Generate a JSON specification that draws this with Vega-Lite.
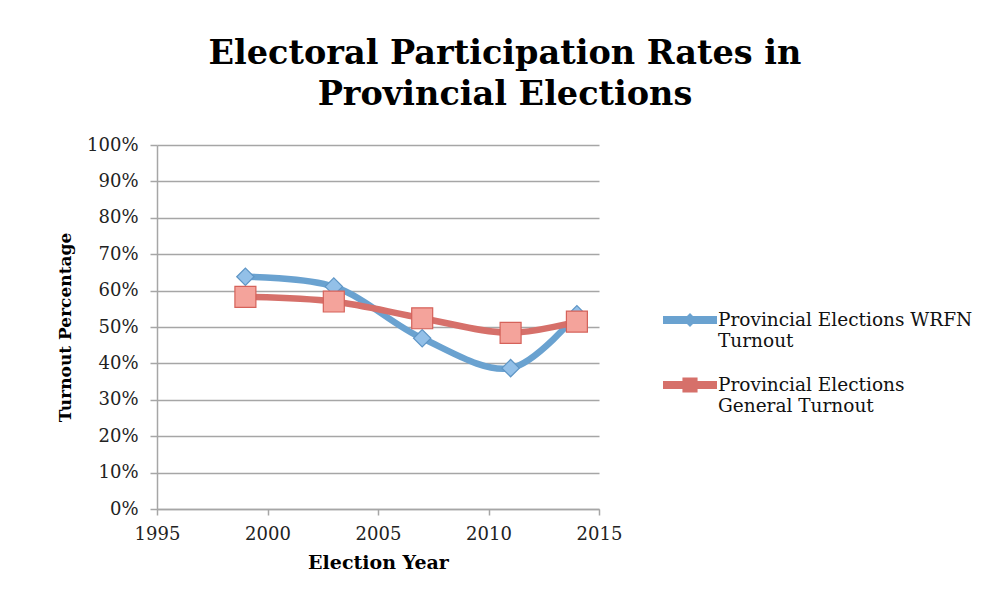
{
  "$schema": "https://vega.github.io/schema/vega-lite/v6.json",
  "autosize": "none",
  "padding": {"left": 157, "top": 145, "right": 404, "bottom": 96},
  "width": 442,
  "height": 364,
  "background": "white",
  "config": {"view": {"stroke": null}, "font": "DejaVu Serif"},
  "title": {
    "text": ["Electoral Participation Rates in", "Provincial Elections"],
    "font": "DejaVu Serif",
    "fontSize": 33.5,
    "fontWeight": "bold",
    "color": "#000000",
    "lineHeight": 41,
    "anchor": "middle",
    "dx": 127,
    "offset": 24
  },
  "data": {
    "values": [
      {"year": 1999, "turnout": 0.638, "series": "Provincial Elections WRFN Turnout"},
      {"year": 2003, "turnout": 0.611, "series": "Provincial Elections WRFN Turnout"},
      {"year": 2007, "turnout": 0.469, "series": "Provincial Elections WRFN Turnout"},
      {"year": 2011, "turnout": 0.387, "series": "Provincial Elections WRFN Turnout"},
      {"year": 2014, "turnout": 0.535, "series": "Provincial Elections WRFN Turnout"},
      {"year": 1999, "turnout": 0.583, "series": "Provincial Elections General Turnout"},
      {"year": 2003, "turnout": 0.570, "series": "Provincial Elections General Turnout"},
      {"year": 2007, "turnout": 0.524, "series": "Provincial Elections General Turnout"},
      {"year": 2011, "turnout": 0.484, "series": "Provincial Elections General Turnout"},
      {"year": 2014, "turnout": 0.515, "series": "Provincial Elections General Turnout"}
    ]
  },
  "encoding": {
    "x": {
      "field": "year", "type": "quantitative",
      "scale": {"domain": [1995, 2015], "nice": false, "zero": false},
      "axis": {
        "title": "Election Year", "titleFont": "DejaVu Serif", "titleFontSize": 19, "titleFontWeight": "bold",
        "titleColor": "#000", "titlePadding": 10,
        "values": [1995, 2000, 2005, 2010, 2015], "format": "d",
        "labelFont": "DejaVu Serif", "labelFontSize": 18, "labelColor": "#222", "labelPadding": 10,
        "grid": false, "domainColor": "#a6a6a6", "domainWidth": 1.5,
        "tickColor": "#a6a6a6", "tickSize": 6, "tickWidth": 1.5, "labelFlush": false
      }
    },
    "y": {
      "field": "turnout", "type": "quantitative",
      "scale": {"domain": [0, 1], "nice": false},
      "axis": {
        "title": "Turnout Percentage", "titleFont": "DejaVu Serif", "titleFontSize": 17, "titleFontWeight": "bold",
        "titleColor": "#000", "titlePadding": 12,
        "values": [0, 0.1, 0.2, 0.3, 0.4, 0.5, 0.6, 0.7, 0.8, 0.9, 1], "format": ".0%",
        "labelFont": "DejaVu Serif", "labelFontSize": 18, "labelColor": "#222", "labelPadding": 12,
        "grid": true, "gridColor": "#a6a6a6", "gridWidth": 1.5,
        "domainColor": "#a6a6a6", "domainWidth": 1.5,
        "tickColor": "#a6a6a6", "tickSize": 7, "tickWidth": 1.5
      }
    }
  },
  "layer": [
    {
      "mark": {"type": "line", "interpolate": "catmull-rom", "strokeWidth": 6.5},
      "encoding": {
        "color": {
          "field": "series", "type": "nominal",
          "scale": {
            "domain": ["Provincial Elections WRFN Turnout", "Provincial Elections General Turnout"],
            "range": ["#6aa2d0", "#d6706a"]
          },
          "legend": {
            "orient": "none", "legendX": 506, "legendY": 148,
            "title": null,
            "labelFont": "DejaVu Serif", "labelFontSize": 18.5, "labelColor": "#111", "labelLimit": 400,
            "labelExpr": "datum.label == 'Provincial Elections WRFN Turnout' ? ['Provincial Elections WRFN', 'Turnout'] : ['Provincial Elections', 'General Turnout']",
            "labelBaseline": "top", "labelOffset": 1, "rowPadding": 8, "labelOverlap": false,
            "symbolSize": 2916,
            "symbolType": "M-1,-0.15L-0.11,-0.15L0,-0.26L0.11,-0.15L1,-0.15L1,0.15L0.11,0.15L0,0.26L-0.11,0.15L-1,0.15Z",
            "symbolStrokeWidth": 0,
            "encode": {
              "symbols": {
                "update": {
                  "shape": {"signal": "datum.value == 'Provincial Elections WRFN Turnout' ? 'M-1,-0.15L-0.11,-0.15L0,-0.26L0.11,-0.15L1,-0.15L1,0.15L0.11,0.15L0,0.26L-0.11,0.15L-1,0.15Z' : 'M-1,-0.15L-0.28,-0.15L-0.28,-0.28L0.28,-0.28L0.28,-0.15L1,-0.15L1,0.15L0.28,0.15L0.28,0.28L-0.28,0.28L-0.28,0.15L-1,0.15Z'"},
                  "fill": {"signal": "datum.value == 'Provincial Elections WRFN Turnout' ? '#6aa2d0' : '#d6706a'"},
                  "stroke": {"value": "transparent"},
                  "strokeWidth": {"value": 0},
                  "opacity": {"value": 1}
                }
              },
              "labels": {
                "update": {"dy": {"value": -9}}
              }
            }
          }
        }
      }
    },
    {
      "transform": [{"filter": "datum.series == 'Provincial Elections WRFN Turnout'"}],
      "mark": {"type": "point", "shape": "diamond", "filled": true, "fill": "#93c0e8", "stroke": "#5f96c6", "strokeWidth": 1.2, "size": 300, "opacity": 1}
    },
    {
      "transform": [{"filter": "datum.series == 'Provincial Elections General Turnout'"}],
      "mark": {"type": "point", "shape": "square", "filled": true, "fill": "#f4a39b", "stroke": "#d5625a", "strokeWidth": 1.2, "size": 440, "opacity": 1}
    }
  ]
}
